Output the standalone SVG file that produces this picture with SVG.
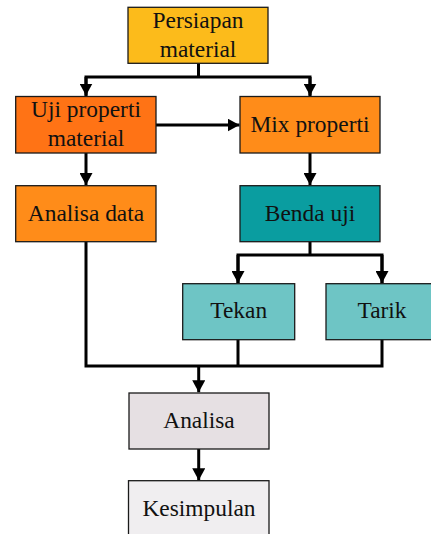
<svg xmlns="http://www.w3.org/2000/svg" width="431" height="534" viewBox="0 0 431 534">
<style>
  .box { stroke: #1a1a1a; stroke-width: 1.3; }
  .lbl { font-family: "Liberation Serif", "Times New Roman", serif; font-size: 23.4px; fill: #111; text-anchor: middle; }
  .ln { fill: none; stroke: #000; stroke-width: 3; }
</style>
<defs>
  <marker id="arr" viewBox="0 0 12 13" refX="12" refY="6.5" markerWidth="12" markerHeight="13" markerUnits="userSpaceOnUse" orient="auto">
    <path d="M0,0 L12,6.5 L0,13 Z" fill="#000"/>
  </marker>
</defs>
<rect width="431" height="534" fill="#fff"/>
<g id="connectors">
  <path class="ln" d="M198.5,63.3 V77 M86,96 V77 H310 V96" />
  <path class="ln" d="M86,77 V95.5" marker-end="url(#arr)"/>
  <path class="ln" d="M310,77 V95.5" marker-end="url(#arr)"/>
  <path class="ln" d="M156,125 H239.5" marker-end="url(#arr)"/>
  <path class="ln" d="M86,153 V185" marker-end="url(#arr)"/>
  <path class="ln" d="M310,153 V185" marker-end="url(#arr)"/>
  <path class="ln" d="M310,241.7 V255 H238 V283 M310,255 H382 V283"/>
  <path class="ln" d="M238,255 V283" marker-end="url(#arr)"/>
  <path class="ln" d="M382,255 V283" marker-end="url(#arr)"/>
  <path class="ln" d="M86,241.7 V366 H382 V339.3 M238,339.7 V366"/>
  <path class="ln" d="M198.7,366 V392.3" marker-end="url(#arr)"/>
  <path class="ln" d="M198.7,449 V480.3" marker-end="url(#arr)"/>
</g>
<g id="persiapan">
  <rect class="box" x="128" y="7.3" width="140" height="56" fill="#FCBB1B"/>
  <text class="lbl" x="198" y="28.3">Persiapan</text>
  <text class="lbl" x="198" y="56.5">material</text>
</g>
<g id="uji">
  <rect class="box" x="15.7" y="96.5" width="140.3" height="56.5" fill="#FF7315"/>
  <text class="lbl" x="86" y="117.2">Uji properti</text>
  <text class="lbl" x="86" y="146">material</text>
</g>
<g id="mix">
  <rect class="box" x="240" y="96.5" width="140" height="56.5" fill="#FF8C19"/>
  <text class="lbl" x="310" y="131.7">Mix properti</text>
</g>
<g id="analisadata">
  <rect class="box" x="15.7" y="185.7" width="140.3" height="56" fill="#FF8C19"/>
  <text class="lbl" x="86" y="220.7">Analisa data</text>
</g>
<g id="benda">
  <rect class="box" x="240" y="185.7" width="140" height="56" fill="#0A9DA0"/>
  <text class="lbl" x="310" y="220.7">Benda uji</text>
</g>
<g id="tekan">
  <rect class="box" x="182.7" y="283.7" width="112" height="56" fill="#6EC5C5"/>
  <text class="lbl" x="238.7" y="318.3">Tekan</text>
</g>
<g id="tarik">
  <rect class="box" x="326" y="283.7" width="112" height="56" fill="#6EC5C5"/>
  <text class="lbl" x="382" y="318.3">Tarik</text>
</g>
<g id="analisa">
  <rect class="box" x="129" y="393" width="140" height="56" fill="#E6E0E3"/>
  <text class="lbl" x="199" y="428.3">Analisa</text>
</g>
<g id="kesimpulan">
  <rect class="box" x="128.5" y="480.7" width="140.5" height="56" fill="#F0EEF0"/>
  <text class="lbl" x="199" y="515.7">Kesimpulan</text>
</g>
</svg>
